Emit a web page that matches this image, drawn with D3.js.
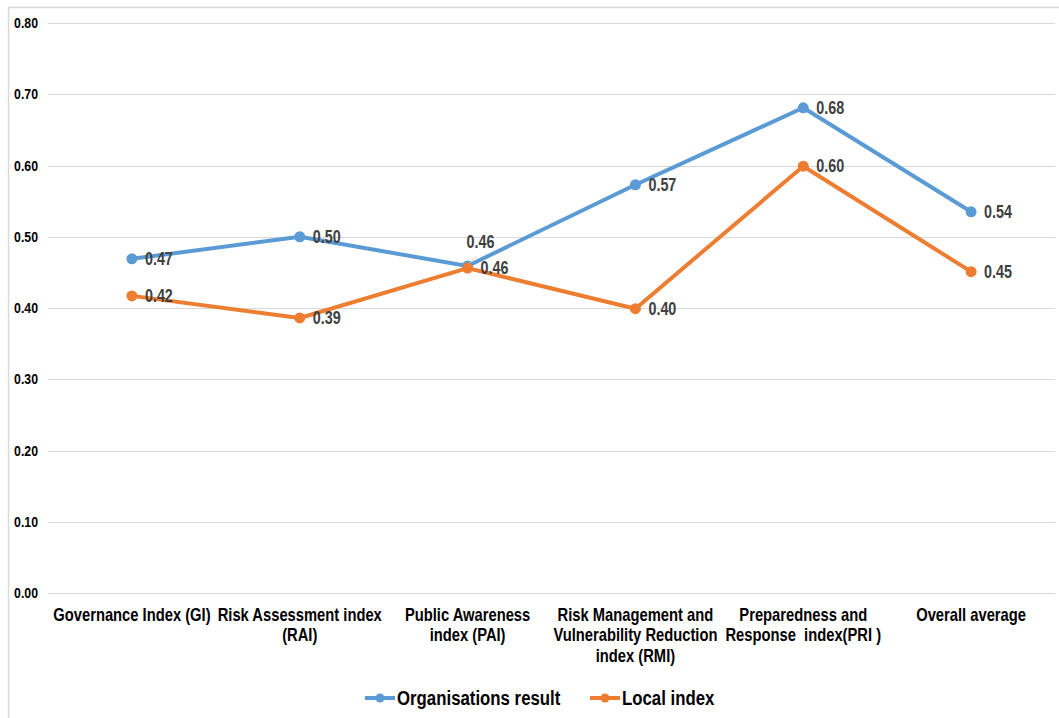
<!DOCTYPE html>
<html>
<head>
<meta charset="utf-8">
<script src="https://cdn.jsdelivr.net/npm/d3@7"></script>
<style>
  html, body { margin: 0; padding: 0; background: #fff; }
  svg { display: block; }
  .narrow { font-family: "Liberation Sans", Arial, sans-serif; font-weight: bold; }
</style>
</head>
<body>
<svg id="chart" width="1059" height="718"></svg>
<script>
// Category labels (line-broken as displayed under the axis)
const categories = [
  ["Governance Index (GI)"],
  ["Risk Assessment index", "(RAI)"],
  ["Public Awareness", "index (PAI)"],
  ["Risk Management and", "Vulnerability Reduction", "index (RMI)"],
  ["Preparedness and", "Response  index(PRI )"],
  ["Overall average"]
];
const organisationsResult = [0.469, 0.500, 0.459, 0.573, 0.681, 0.535];
const localIndex          = [0.417, 0.386, 0.456, 0.399, 0.599, 0.451];
const yTicks = [0, 0.1, 0.2, 0.3, 0.4, 0.5, 0.6, 0.7, 0.8];
const seriesNames = ["Organisations result", "Local index"];
const seriesColors = ["#5b9bd5", "#ed7d31"];

// Horizontal squeeze that gives a narrow-face look to the bold sans
const SQUEEZE = 0.82;

const svg = d3.select("#chart");

// Places condensed text: a group positioned at (x, y), squeezed horizontally
function narrowText(parent, x, y, size, fill, anchor, lines, lineGap) {
  const g = parent.append("g")
    .attr("transform", `translate(${x},${y}) scale(${SQUEEZE},1)`);
  const t = g.append("text")
    .attr("class", "narrow")
    .attr("font-size", size)
    .attr("fill", fill)
    .attr("text-anchor", anchor)
    .attr("xml:space", "preserve")
    .style("white-space", "pre");
  [].concat(lines).forEach((ln, j) => {
    t.append("tspan").attr("x", 0).attr("dy", j === 0 ? 0 : lineGap).text(ln);
  });
  return t;
}

// Outer frame (top and left edges visible)
svg.append("line").attr("x1", 8).attr("x2", 1059).attr("y1", 7.5).attr("y2", 7.5)
  .attr("stroke", "#d9d9d9").attr("stroke-width", 1.5);
svg.append("line").attr("x1", 8.5).attr("x2", 8.5).attr("y1", 7).attr("y2", 718)
  .attr("stroke", "#d9d9d9").attr("stroke-width", 1.5);

const plot = { left: 48, right: 1055, top: 23, bottom: 593 };

const x = d3.scaleBand()
  .domain(d3.range(categories.length))
  .range([plot.left, plot.right])
  .paddingInner(0).paddingOuter(0);

const y = d3.scaleLinear().domain([0, 0.8]).range([plot.bottom, plot.top]);

// Horizontal gridlines
svg.append("g")
  .selectAll("line")
  .data(yTicks)
  .join("line")
  .attr("x1", plot.left).attr("x2", plot.right)
  .attr("y1", d => Math.round(y(d)) + 0.5).attr("y2", d => Math.round(y(d)) + 0.5)
  .attr("stroke", "#d9d9d9").attr("stroke-width", 1);

// Y axis tick labels
const tickFmt = d3.format(".2f");
const yg = svg.append("g");
yTicks.forEach(v => {
  narrowText(yg, 38, y(v) + 5, 15, "#000", "end", tickFmt(v), 0);
});

// X category labels
const xg = svg.append("g");
categories.forEach((lines, i) => {
  narrowText(xg, x(i) + x.bandwidth() / 2, 621, 18, "#000", "middle", lines, 20.5);
});

const cx = i => x(i) + x.bandwidth() / 2;
const line = d3.line().x((d, i) => cx(i)).y(d => y(d));

const series = [organisationsResult, localIndex];
series.forEach((vals, s) => {
  svg.append("path")
    .datum(vals)
    .attr("d", line)
    .attr("fill", "none")
    .attr("stroke", seriesColors[s])
    .attr("stroke-width", 4)
    .attr("stroke-linejoin", "round");
  svg.append("g")
    .selectAll("circle")
    .data(vals)
    .join("circle")
    .attr("cx", (d, i) => cx(i))
    .attr("cy", d => y(d))
    .attr("r", 5.5)
    .attr("fill", seriesColors[s]);
});

// Data labels
const fmt = d3.format(".2f");
const labelLayer = svg.append("g");
series.forEach((vals, s) => {
  vals.forEach((v, i) => {
    let lx = cx(i) + 13, ly = y(v) + 6;
    // Blue label for the crossing point is lifted above the lines
    if (s === 0 && i === 2) { lx = cx(i) - 1; ly = y(v) - 18; }
    narrowText(labelLayer, lx, ly, 17.5, "#404040", "start", fmt(v), 0);
  });
});
// Leader line for the lifted label
svg.append("line")
  .attr("x1", cx(2) + 2).attr("y1", y(organisationsResult[2]) - 3)
  .attr("x2", cx(2) + 9).attr("y2", y(organisationsResult[2]) - 10)
  .attr("stroke", "#d0d0d0").attr("stroke-width", 1);

// Legend
const legendItems = [
  { name: seriesNames[0], color: seriesColors[0], x: 365 },
  { name: seriesNames[1], color: seriesColors[1], x: 590 }
];
const lg = svg.append("g");
legendItems.forEach(it => {
  lg.append("line")
    .attr("x1", it.x).attr("x2", it.x + 30)
    .attr("y1", 698).attr("y2", 698)
    .attr("stroke", it.color).attr("stroke-width", 4);
  lg.append("circle").attr("cx", it.x + 15).attr("cy", 698).attr("r", 4.5).attr("fill", it.color);
  narrowText(lg, it.x + 32, 705, 20.5, "#000", "start", it.name, 0);
});
</script>
</body>
</html>
